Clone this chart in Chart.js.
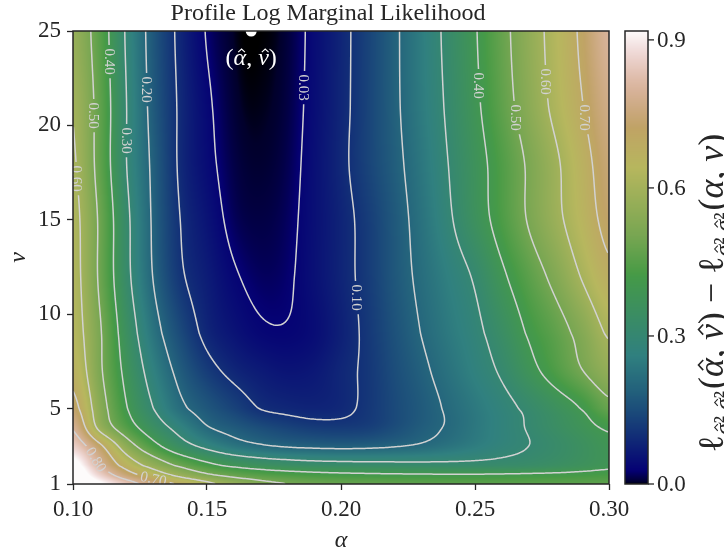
<!DOCTYPE html>
<html>
<head>
<meta charset="utf-8">
<title>Profile Log Marginal Likelihood</title>
<script src="https://cdn.jsdelivr.net/npm/chart.js@4.4.1/dist/chart.umd.min.js"></script>
<style>
  html, body { margin: 0; padding: 0; background: #fff; }
  canvas { display: block; }
</style>
</head>
<body>
<canvas id="profileChart" width="724" height="552"></canvas>
<script>
// grid the surface was read on: alpha columns, nu rows
const alphaGrid = [0.10, 0.11, 0.12, 0.13, 0.14, 0.15, 0.16, 0.17, 0.18, 0.19, 0.20,
                   0.21, 0.22, 0.23, 0.24, 0.25, 0.26, 0.27, 0.28, 0.29, 0.30];
const nuGrid = [1, 1.5, 2, 3, 4, 5, 7, 9, 12, 15, 18, 21, 25];

// drop in profile log marginal likelihood, one row per nu
const drop_nu1   = [1.00, 0.93, 0.84, 0.76, 0.685, 0.62, 0.565, 0.525, 0.50, 0.485, 0.475, 0.47, 0.465, 0.46, 0.458, 0.456, 0.455, 0.455, 0.455, 0.456, 0.458];
const drop_nu1_5 = [0.98, 0.86, 0.74, 0.65, 0.57, 0.51, 0.47, 0.445, 0.43, 0.42, 0.413, 0.409, 0.406, 0.404, 0.403, 0.403, 0.405, 0.408, 0.412, 0.418, 0.425];
const drop_nu2   = [0.95, 0.80, 0.66, 0.56, 0.48, 0.42, 0.38, 0.355, 0.34, 0.33, 0.325, 0.322, 0.32, 0.318, 0.317, 0.318, 0.322, 0.33, 0.345, 0.365, 0.385];
const drop_nu3   = [0.86, 0.72, 0.55, 0.43, 0.34, 0.28, 0.235, 0.21, 0.195, 0.188, 0.185, 0.188, 0.197, 0.21, 0.23, 0.253, 0.278, 0.30, 0.325, 0.355, 0.385];
const drop_nu4   = [0.79, 0.575, 0.445, 0.347, 0.27, 0.205, 0.175, 0.15, 0.132, 0.12, 0.118, 0.125, 0.15, 0.18, 0.206, 0.239, 0.272, 0.305, 0.34, 0.376, 0.41];
const drop_nu5   = [0.73, 0.544, 0.404, 0.30, 0.216, 0.169, 0.132, 0.098, 0.086, 0.081, 0.088, 0.112, 0.144, 0.175, 0.208, 0.242, 0.277, 0.315, 0.358, 0.405, 0.475];
const drop_nu7   = [0.67, 0.514, 0.376, 0.263, 0.179, 0.121, 0.085, 0.066, 0.056, 0.062, 0.085, 0.111, 0.15, 0.187, 0.226, 0.266, 0.31, 0.374, 0.435, 0.498, 0.56];
const drop_nu9   = [0.64, 0.509, 0.353, 0.23, 0.146, 0.085, 0.055, 0.036, 0.033, 0.045, 0.075, 0.113, 0.158, 0.2015, 0.242, 0.282, 0.339, 0.408, 0.4625, 0.53, 0.61];
const drop_nu12  = [0.63, 0.487, 0.322, 0.197, 0.11, 0.069, 0.035, 0.02, 0.025, 0.05, 0.081, 0.119, 0.169, 0.215, 0.26, 0.309, 0.386, 0.455, 0.524, 0.606, 0.68];
const drop_nu15  = [0.625, 0.487, 0.318, 0.19, 0.10, 0.055, 0.019, 0.011, 0.02, 0.049, 0.081, 0.121, 0.172, 0.226, 0.288, 0.359, 0.432, 0.506, 0.578, 0.651, 0.725];
const drop_nu18  = [0.61, 0.467, 0.30, 0.185, 0.091, 0.043, 0.012, 0.005, 0.015, 0.048, 0.087, 0.133, 0.182, 0.237, 0.30, 0.368, 0.438, 0.511, 0.586, 0.667, 0.745];
const drop_nu21  = [0.595, 0.467, 0.30, 0.176, 0.091, 0.038, 0.007, 0.002, 0.011, 0.045, 0.084, 0.133, 0.188, 0.247, 0.311, 0.384, 0.462, 0.542, 0.62, 0.697, 0.77];
const drop_nu25  = [0.57, 0.453, 0.29, 0.169, 0.085, 0.027, 0.003, 0.000, 0.008, 0.043, 0.083, 0.132, 0.189, 0.251, 0.319, 0.394, 0.474, 0.555, 0.633, 0.716, 0.80];

const dropRows = [drop_nu1, drop_nu1_5, drop_nu2, drop_nu3, drop_nu4, drop_nu5, drop_nu7,
                  drop_nu9, drop_nu12, drop_nu15, drop_nu18, drop_nu21, drop_nu25];

const contourLevels = [0.03, 0.10, 0.20, 0.30, 0.40, 0.50, 0.60, 0.70, 0.80];
// [level, alpha, nu] where the inline label sits
const contourLabels = [
  [0.40, 0.1131, 23.4], [0.50, 0.1082, 20.5], [0.60, 0.1022, 17.2],
  [0.20, 0.1265, 21.9], [0.30, 0.1201, 19.2], [0.03, 0.1858, 22.0],
  [0.10, 0.2067, 10.9], [0.40, 0.2519, 22.1], [0.50, 0.2657, 20.4],
  [0.60, 0.2769, 22.3], [0.70, 0.2903, 20.4], [0.80, 0.1101, 2.3],
  [0.70, 0.1299, 1.4]
];

const xTicks = [0.10, 0.15, 0.20, 0.25, 0.30];
const yTicks = [1, 5, 10, 15, 20, 25];
const cbarTicks = [0.0, 0.3, 0.6, 0.9];
const cbarMax = 0.918;
const mle = { alpha: 0.1665, nu: 25 };
const titleText = 'Profile Log Marginal Likelihood';

const FONT = "'Liberation Serif', 'DejaVu Serif', serif";
const INK = '#262626';
const LINE = '#d2d2d2';

// matplotlib gist_earth segments
const EARTH_R = [[0, 0], [0.2824, 0.1882], [0.4588, 0.2714], [0.5490, 0.4719], [0.6980, 0.7176], [0.7882, 0.7553], [1, 0.9922]];
const EARTH_G = [[0, 0], [0.0275, 0], [0.1098, 0.1893], [0.1647, 0.3035], [0.2078, 0.3841], [0.2824, 0.5020], [0.5216, 0.6397],
                 [0.6980, 0.7171], [0.7882, 0.6392], [0.8157, 0.6549], [0.8667, 0.6991], [0.8980, 0.7430], [0.9412, 0.8275],
                 [0.9647, 0.8816], [0.9961, 0.9733], [1, 0.9843]];
const EARTH_B = [[0, 0], [0.0039, 0.1684], [0.0078, 0.2212], [0.0275, 0.4329], [0.0314, 0.4549], [0.2824, 0.5004],
                 [0.4667, 0.2748], [0.5451, 0.3205], [0.7843, 0.3961], [0.8941, 0.6651], [1, 0.9843]];

function seg(pts, t) {
  for (let i = 1; i < pts.length; i++) {
    if (t <= pts[i][0]) {
      const [x0, y0] = pts[i - 1], [x1, y1] = pts[i];
      return y0 + (y1 - y0) * (t - x0) / (x1 - x0);
    }
  }
  return pts[pts.length - 1][1];
}

function earth(v) {
  const t = Math.min(1, Math.max(0, v / cbarMax));
  return [seg(EARTH_R, t) * 255, seg(EARTH_G, t) * 255, seg(EARTH_B, t) * 255];
}

// smooth lookup on the read grid
function nuIndex(nu) {
  for (let i = 1; i < nuGrid.length; i++) {
    if (nu <= nuGrid[i]) return i - 1 + (nu - nuGrid[i - 1]) / (nuGrid[i] - nuGrid[i - 1]);
  }
  return nuGrid.length - 1;
}
function cr(p0, p1, p2, p3, t) {
  return 0.5 * (2 * p1 + (-p0 + p2) * t + (2 * p0 - 5 * p1 + 4 * p2 - p3) * t * t + (-p0 + 3 * p1 - 3 * p2 + p3) * t * t * t);
}
function fieldAt(a, nu) {
  const nx = alphaGrid.length, ny = nuGrid.length;
  let fx = (a - alphaGrid[0]) / (alphaGrid[1] - alphaGrid[0]);
  let fy = nuIndex(nu);
  fx = Math.min(nx - 1, Math.max(0, fx));
  fy = Math.min(ny - 1, Math.max(0, fy));
  const ix = Math.min(nx - 2, Math.floor(fx)), iy = Math.min(ny - 2, Math.floor(fy));
  const tx = fx - ix, ty = fy - iy;
  const cx = k => Math.min(nx - 1, Math.max(0, k));
  const cy = k => Math.min(ny - 1, Math.max(0, k));
  const col = [];
  for (let m = -1; m <= 2; m++) {
    const row = dropRows[cy(iy + m)];
    col.push(cr(row[cx(ix - 1)], row[cx(ix)], row[cx(ix + 1)], row[cx(ix + 2)], tx));
  }
  return cr(col[0], col[1], col[2], col[3], ty);
}

let fieldCache = null;
function sampleField(chart) {
  const { chartArea: a, scales: { x, y } } = chart;
  const W = Math.round(a.right - a.left), H = Math.round(a.bottom - a.top);
  const key = [W, H, a.left, a.top].join(',');
  if (fieldCache && fieldCache.key === key) return fieldCache;
  const vals = new Float32Array(W * H);
  const cnv = document.createElement('canvas');
  cnv.width = W; cnv.height = H;
  const c2 = cnv.getContext('2d');
  const img = c2.createImageData(W, H);
  for (let j = 0; j < H; j++) {
    const nu = y.getValueForPixel(a.top + j + 0.5);
    for (let i = 0; i < W; i++) {
      const v = fieldAt(x.getValueForPixel(a.left + i + 0.5), nu);
      vals[j * W + i] = v;
      const c = earth(v), k = 4 * (j * W + i);
      img.data[k] = c[0]; img.data[k + 1] = c[1]; img.data[k + 2] = c[2]; img.data[k + 3] = 255;
    }
  }
  c2.putImageData(img, 0, 0);
  fieldCache = { key, W, H, vals, canvas: cnv };
  return fieldCache;
}

function contourSegments(f, level, step) {
  const { W, H, vals } = f;
  const segs = [];
  for (let j = 0; j + step < H; j += step) {
    for (let i = 0; i + step < W; i += step) {
      const v0 = vals[j * W + i], v1 = vals[j * W + i + step];
      const v2 = vals[(j + step) * W + i + step], v3 = vals[(j + step) * W + i];
      const b0 = v0 > level, b1 = v1 > level, b2 = v2 > level, b3 = v3 > level;
      if (b0 === b1 && b1 === b2 && b2 === b3) continue;
      const t = (p, q) => (level - p) / (q - p);
      const pts = [];
      if (b0 !== b1) pts.push([i + step * t(v0, v1), j]);
      if (b1 !== b2) pts.push([i + step, j + step * t(v1, v2)]);
      if (b3 !== b2) pts.push([i + step * t(v3, v2), j + step]);
      if (b0 !== b3) pts.push([i, j + step * t(v0, v3)]);
      if (pts.length === 2) segs.push(pts);
      else if (pts.length === 4) { segs.push([pts[0], pts[1]]); segs.push([pts[2], pts[3]]); }
    }
  }
  return segs;
}

// snap a label to the drawn contour and get its angle
function placeLabel(f, chart, level, alpha, nu) {
  const { chartArea: a, scales: { x, y } } = chart;
  const { W, H, vals } = f;
  const px = Math.round(x.getPixelForValue(alpha) - a.left - 0.5);
  const py = Math.round(y.getPixelForValue(nu) - a.top - 0.5);
  const at = (i, j) => vals[Math.min(H - 1, Math.max(0, j)) * W + Math.min(W - 1, Math.max(0, i))];
  let best = null;
  for (let d = 0; d <= 25 && !best; d++) {
    for (const s of [-1, 1]) {
      const i = px + s * d;
      const p = at(i, py) - level, q = at(i + 1, py) - level;
      if (p * q <= 0 && p !== q) { best = [i + p / (p - q), py]; break; }
      const r = at(px, py + s * d) - level, u = at(px, py + s * d + 1) - level;
      if (r * u <= 0 && r !== u) { best = [px, py + s * d + r / (r - u)]; break; }
    }
  }
  if (!best) best = [px, py];
  const bi = Math.round(best[0]), bj = Math.round(best[1]);
  const gx = at(bi + 2, bj) - at(bi - 2, bj), gy = at(bi, bj + 2) - at(bi, bj - 2);
  let ang = Math.atan2(gx, -gy);
  while (ang > Math.PI / 2) ang -= Math.PI;
  while (ang <= -Math.PI / 2) ang += Math.PI;
  if (Math.abs(ang) > 1.25) ang = Math.PI / 2;
  return { cx: a.left + best[0] + 0.5, cy: a.top + best[1] + 0.5, ang };
}

// math-ish text: tokens drawn one after another, with optional hat accents
function tokenFont(tk) { return (tk.italic ? 'italic ' : '') + tk.size + 'px ' + FONT; }
function richWidth(ctx, tokens) {
  let w = 0;
  tokens.forEach(tk => { ctx.font = tokenFont(tk); w += ctx.measureText(tk.t).width + (tk.gap || 0); });
  return w;
}
function drawRich(ctx, tokens, x, y) {
  tokens.forEach(tk => {
    ctx.font = tokenFont(tk);
    const w = ctx.measureText(tk.t).width;
    const by = y + (tk.dy || 0);
    ctx.fillText(tk.t, x, by);
    if (tk.hat) {
      const s = tk.size, hx = x + w / 2 + s * 0.07;
      ctx.save();
      ctx.lineWidth = Math.max(1, s * 0.045);
      ctx.beginPath();
      ctx.moveTo(hx - s * 0.14, by - s * 0.55);
      ctx.lineTo(hx, by - s * 0.68);
      ctx.lineTo(hx + s * 0.14, by - s * 0.55);
      ctx.stroke();
      ctx.restore();
    }
    x += w + (tk.gap || 0);
  });
}

const heatmapPlugin = {
  id: 'heatmap',
  beforeDatasetsDraw(chart) {
    const { ctx, chartArea: a } = chart;
    const f = sampleField(chart);
    ctx.save();
    ctx.drawImage(f.canvas, a.left, a.top);

    ctx.font = '15px ' + FONT;
    const labels = contourLabels.map(([lv, al, nu]) => {
      const p = placeLabel(f, chart, lv, al, nu);
      p.text = lv.toFixed(2);
      p.w = ctx.measureText(p.text).width + 7;
      return p;
    });

    // clip out label gaps
    ctx.beginPath();
    ctx.rect(a.left, a.top, a.right - a.left, a.bottom - a.top);
    labels.forEach(l => {
      const c = Math.cos(l.ang), s = Math.sin(l.ang), hw = l.w / 2, hh = 7;
      const corners = [[-hw, -hh], [hw, -hh], [hw, hh], [-hw, hh]].map(([u, v]) => [l.cx + u * c - v * s, l.cy + u * s + v * c]);
      ctx.moveTo(corners[0][0], corners[0][1]);
      for (let k = 1; k < 4; k++) ctx.lineTo(corners[k][0], corners[k][1]);
      ctx.closePath();
    });
    ctx.clip('evenodd');

    ctx.strokeStyle = LINE;
    ctx.lineWidth = 1.5;
    ctx.lineCap = 'round';
    contourLevels.forEach(lv => {
      ctx.beginPath();
      contourSegments(f, lv, 2).forEach(([p, q]) => {
        ctx.moveTo(a.left + p[0] + 0.5, a.top + p[1] + 0.5);
        ctx.lineTo(a.left + q[0] + 0.5, a.top + q[1] + 0.5);
      });
      ctx.stroke();
    });
    ctx.restore();

    ctx.save();
    ctx.beginPath();
    ctx.rect(a.left, a.top, a.right - a.left, a.bottom - a.top);
    ctx.clip();
    ctx.fillStyle = LINE;
    ctx.font = '15px ' + FONT;
    ctx.textAlign = 'center';
    ctx.textBaseline = 'middle';
    labels.forEach(l => {
      ctx.save();
      ctx.translate(l.cx, l.cy);
      ctx.rotate(l.ang);
      ctx.fillText(l.text, 0, 1);
      ctx.restore();
    });
    ctx.restore();
  },
  afterDatasetsDraw(chart) {
    const { ctx, chartArea: a, scales: { x, y } } = chart;
    ctx.save();
    ctx.fillStyle = '#ffffff';
    ctx.strokeStyle = '#ffffff';
    ctx.textAlign = 'left';
    ctx.textBaseline = 'alphabetic';
    const mleText = [
      { t: '(', size: 24 },
      { t: '\u03b1', size: 24, italic: true, hat: true },
      { t: ', ', size: 24 },
      { t: '\u03bd', size: 24, italic: true, hat: true },
      { t: ')', size: 24 }
    ];
    const w = richWidth(ctx, mleText);
    drawRich(ctx, mleText, x.getPixelForValue(mle.alpha) - w / 2, y.getPixelForValue(23.6) + 8);

    ctx.strokeStyle = INK;
    ctx.lineWidth = 1.5;
    ctx.strokeRect(a.left, a.top, a.right - a.left, a.bottom - a.top);

    // title
    ctx.fillStyle = INK;
    ctx.font = '24px ' + FONT;
    ctx.textAlign = 'center';
    ctx.textBaseline = 'middle';
    ctx.fillText(titleText, (a.left + a.right) / 2 - 13, a.top - 17);
    ctx.restore();
  }
};

// colour bar on the right, mapped through the hidden 'cbar' scale
const colorbarPlugin = {
  id: 'colorbar',
  afterDraw(chart) {
    const { ctx, chartArea: a, scales: { cbar } } = chart;
    const x0 = a.right + 16, x1 = a.right + 39;
    ctx.save();
    for (let py = Math.floor(a.top); py < Math.ceil(a.bottom); py++) {
      const c = earth(cbar.getValueForPixel(py + 0.5));
      ctx.fillStyle = `rgb(${c[0] | 0},${c[1] | 0},${c[2] | 0})`;
      ctx.fillRect(x0, py, x1 - x0, 1);
    }
    ctx.strokeStyle = INK;
    ctx.lineWidth = 1.5;
    ctx.strokeRect(x0, a.top, x1 - x0, a.bottom - a.top);
    ctx.fillStyle = INK;
    ctx.font = '23px ' + FONT;
    ctx.textAlign = 'left';
    ctx.textBaseline = 'middle';
    cbarTicks.forEach(v => {
      const py = cbar.getPixelForValue(v);
      ctx.beginPath();
      ctx.moveTo(x1, py);
      ctx.lineTo(x1 + 6, py);
      ctx.lineWidth = 1.3;
      ctx.stroke();
      ctx.fillText(v.toFixed(1), x1 + 9, py + 1);
    });

    // colour bar label, rotated and running off the right edge like the original
    const F = 36, S = 24;
    const sub = [
      { t: '\u03c3', size: S, italic: true, hat: true, dy: 8 },
      { t: '\u00b2', size: S, dy: 8 },
      { t: ',', size: S, dy: 8 },
      { t: '\u03c3', size: S, italic: true, hat: true, dy: 8 },
      { t: '\u00b2', size: S, dy: 8, gap: 2 }
    ];
    const label = [
      { t: '\u2113', size: F }, ...sub,
      { t: '(', size: F },
      { t: '\u03b1', size: F, italic: true, hat: true },
      { t: ', ', size: F },
      { t: '\u03bd', size: F, italic: true, hat: true },
      { t: ') \u2212 ', size: F },
      { t: '\u2113', size: F }, ...sub,
      { t: '(', size: F },
      { t: '\u03b1', size: F, italic: true },
      { t: ', ', size: F },
      { t: '\u03bd', size: F, italic: true },
      { t: ')', size: F }
    ];
    const total = richWidth(ctx, label);
    ctx.translate(723, 293);
    ctx.rotate(-Math.PI / 2);
    ctx.textAlign = 'left';
    ctx.textBaseline = 'alphabetic';
    ctx.fillStyle = INK;
    ctx.strokeStyle = INK;
    drawRich(ctx, label, -total / 2, 0);
    ctx.restore();
  }
};

const tickFont = { family: FONT, size: 23 };

new Chart(document.getElementById('profileChart'), {
  type: 'scatter',
  data: {
    datasets: [{
      label: 'MLE',
      data: [{ x: mle.alpha, y: mle.nu }],
      pointRadius: 5.5,
      pointHoverRadius: 5.5,
      backgroundColor: '#ffffff',
      borderWidth: 0
    }]
  },
  options: {
    responsive: false,
    animation: false,
    events: [],
    layout: { padding: { left: 0, right: 115, top: 31, bottom: 0 } },
    plugins: {
      legend: { display: false },
      tooltip: { enabled: false },
      title: { display: false }
    },
    scales: {
      x: {
        type: 'linear',
        min: 0.10,
        max: 0.30,
        afterBuildTicks: s => { s.ticks = xTicks.map(v => ({ value: v })); },
        afterFit: s => { s.height = 68; },
        ticks: { callback: v => v.toFixed(2), font: tickFont, color: INK, padding: 6, maxRotation: 0, autoSkip: false },
        grid: { drawOnChartArea: false, tickLength: 6, tickWidth: 1.3, tickColor: INK },
        border: { display: false },
        title: { display: true, text: '\u03b1', color: INK, font: { family: FONT, size: 24, style: 'italic' }, padding: { top: 0, bottom: -3 } }
      },
      y: {
        type: 'linear',
        min: 1,
        max: 25,
        afterBuildTicks: s => { s.ticks = yTicks.map(v => ({ value: v })); },
        afterFit: s => { s.width = 73; },
        ticks: { callback: v => String(v), font: tickFont, color: INK, padding: 6, autoSkip: false },
        grid: { drawOnChartArea: false, tickLength: 6, tickWidth: 1.3, tickColor: INK },
        border: { display: false },
        title: { display: true, text: '\u03bd', color: INK, font: { family: FONT, size: 24, style: 'italic' }, padding: { top: 4, bottom: 0 } }
      },
      cbar: {
        type: 'linear',
        position: 'right',
        display: false,
        min: 0,
        max: cbarMax
      }
    }
  },
  plugins: [heatmapPlugin, colorbarPlugin]
});
</script>
</body>
</html>
